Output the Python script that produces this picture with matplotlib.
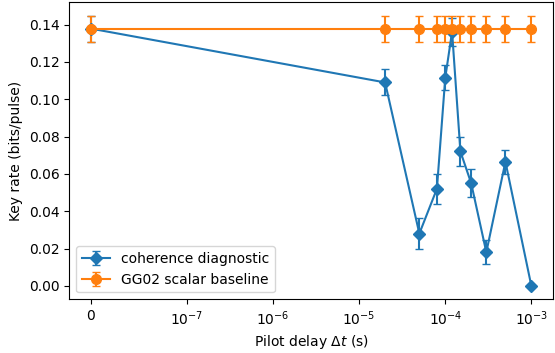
import matplotlib
matplotlib.use("Agg")
import matplotlib.pyplot as plt

# pilot delays (s)
delays = [0, 2e-5, 5e-5, 8e-5, 1e-4, 1.2e-4, 1.5e-4, 2e-4, 3e-4, 5e-4, 1e-3]

# coherence diagnostic key rate and error
coh_rate = [0.1378, 0.109, 0.028, 0.052, 0.1115, 0.1362, 0.072, 0.055, 0.018, 0.0665, 0.0]
coh_err = [0.007, 0.007, 0.0085, 0.008, 0.0067, 0.0075, 0.008, 0.0076, 0.0063, 0.0065, 0.0]

# GG02 scalar baseline
gg_rate = [0.1378] * len(delays)
gg_err = [0.007] * len(delays)

fig, ax = plt.subplots(figsize=(5.55, 3.53), dpi=100)
fig.subplots_adjust(left=0.125, right=0.997, top=0.994, bottom=0.152)

ax.errorbar(delays, coh_rate, yerr=coh_err, marker="D", markersize=6,
            capsize=3, label="coherence diagnostic")
ax.errorbar(delays, gg_rate, yerr=gg_err, marker="o", markersize=7,
            capsize=3, label="GG02 scalar baseline")

ax.set_xscale("symlog", linthresh=1e-7)
ax.set_xlabel(r"Pilot delay $\Delta t$ (s)")
ax.set_ylabel("Key rate (bits/pulse)")
ax.legend(loc="lower left")

fig.savefig("out.png")
